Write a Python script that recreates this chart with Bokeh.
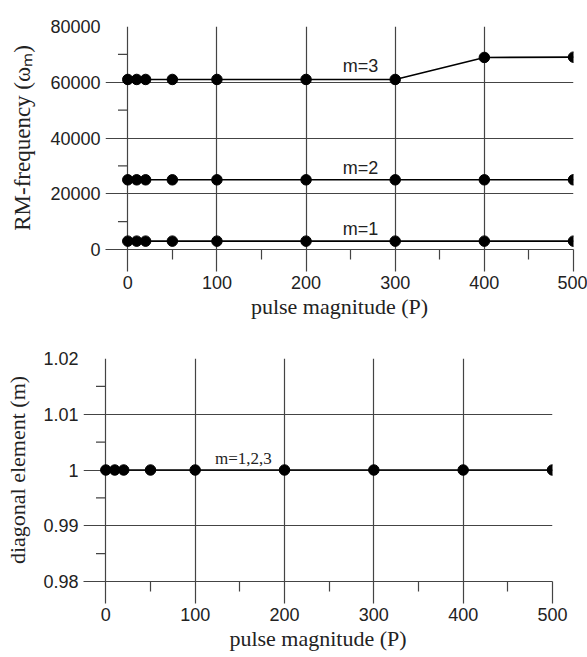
from bokeh.plotting import figure
from bokeh.models import FixedTicker, Label, CustomJSTickFormatter, Range1d
from bokeh.embed import file_html
from bokeh.resources import INLINE

# ---- data ----
pulse = [0, 10, 20, 50, 100, 200, 300, 400, 500]
freq_m1 = [3000, 3000, 3000, 3000, 3000, 3000, 3000, 3000, 3000]
freq_m2 = [25000, 25000, 25000, 25000, 25000, 25000, 25000, 25000, 25000]
freq_m3 = [61000, 61000, 61000, 61000, 61000, 61000, 61000, 68900, 69000]
diag = [1.0, 1.0, 1.0, 1.0, 1.0, 1.0, 1.0, 1.0, 1.0]

x_major = [0, 100, 200, 300, 400, 500]
x_minor = [50, 150, 250, 350, 450]
ya_major = [0, 20000, 40000, 60000, 80000]
ya_minor = [10000, 30000, 50000, 70000]
yb_major = [0.98, 0.99, 1.0, 1.01, 1.02]
yb_minor = [0.985, 0.995, 1.005, 1.015]

GRID = "#444444"
SANS = "Liberation Sans"
SERIF = "Liberation Serif"


def style(p, yticks, ylabel, ystandoff, ysize):
    p.outline_line_color = None
    p.background_fill_color = "white"
    p.border_fill_color = "white"
    # x axis
    xa = p.xaxis[0]
    xa.ticker = FixedTicker(ticks=x_major, minor_ticks=x_minor)
    xa.axis_line_color = GRID
    xa.axis_line_width = 1.2
    xa.major_tick_line_color = GRID
    xa.major_tick_line_width = 1.2
    xa.major_tick_out = 22
    xa.major_tick_in = 0
    xa.minor_tick_line_color = GRID
    xa.minor_tick_line_width = 1.2
    xa.minor_tick_out = 10
    xa.minor_tick_in = 0
    xa.major_label_text_font = SANS
    xa.major_label_text_font_size = "18px"
    xa.major_label_text_color = "#222222"
    xa.major_label_standoff = 4
    xa.axis_label = "pulse magnitude (P)"
    xa.axis_label_text_font = SERIF
    xa.axis_label_text_font_size = "22px"
    xa.axis_label_text_font_style = "normal"
    xa.axis_label_text_color = "#222222"
    xa.axis_label_standoff = 2
    # y axis
    ya = p.yaxis[0]
    ya.ticker = FixedTicker(ticks=yticks)
    ya.formatter = CustomJSTickFormatter(code="return tick.toString();")
    ya.axis_line_color = None
    ya.major_tick_line_color = None
    ya.major_tick_out = 0
    ya.major_tick_in = 0
    ya.minor_tick_line_color = None
    ya.major_label_text_font = SANS
    ya.major_label_text_font_size = "18px"
    ya.major_label_text_color = "#222222"
    ya.major_label_standoff = 5
    ya.axis_label = ylabel
    ya.axis_label_text_font = SERIF
    ya.axis_label_text_font_size = ysize
    ya.axis_label_text_font_style = "normal"
    ya.axis_label_text_color = "#222222"
    ya.axis_label_standoff = ystandoff
    # grids
    p.xgrid[0].ticker = FixedTicker(ticks=x_major)
    p.ygrid[0].ticker = FixedTicker(ticks=yticks)
    for g in (p.xgrid[0], p.ygrid[0]):
        g.grid_line_color = GRID
        g.grid_line_width = 1.2
        g.grid_line_alpha = 1.0


# ---- panel (a) ----
p1 = figure(width=587, height=328, output_backend="svg", toolbar_location=None,
            x_range=Range1d(-25, 500), y_range=Range1d(0, 80000),
            min_border_left=105, min_border_right=14, min_border_top=26,
            min_border_bottom=79)
style(p1, ya_major, "RM-frequency (ω\u2098)", 12, "23px")
p1.segment(x0=[-11] * len(ya_minor), y0=ya_minor, x1=[0] * len(ya_minor), y1=ya_minor,
           line_color=GRID, line_width=1.2)
for ys in (freq_m1, freq_m2, freq_m3):
    p1.line(pulse, ys, line_color="black", line_width=1.6)
    p1.scatter(pulse, ys, size=10.5, fill_color="black", line_color="black")
for txt, yy in (("m=3", 66000), ("m=2", 29240), ("m=1", 7350)):
    p1.add_layout(Label(x=261, y=yy, text=txt, text_align="center", text_baseline="middle",
                        text_font=SANS, text_font_size="18px", text_color="#222222"))
p1.add_layout(Label(x=-10, y=80000, y_offset=13, text="(a)", text_align="left",
                    text_baseline="middle", text_font=SERIF, text_font_size="18px",
                    text_color="#222222"))

# ---- panel (b) ----
p2 = figure(width=587, height=329, output_backend="svg", toolbar_location=None,
            x_range=Range1d(-25, 500), y_range=Range1d(0.98, 1.02),
            min_border_left=83, min_border_right=35, min_border_top=30,
            min_border_bottom=76)
style(p2, yb_major, "diagonal element (m)", 10, "22px")
p2.segment(x0=[-11] * len(yb_minor), y0=yb_minor, x1=[0] * len(yb_minor), y1=yb_minor,
           line_color=GRID, line_width=1.2)
p2.line(pulse, diag, line_color="black", line_width=1.6)
p2.scatter(pulse, diag, size=10.5, fill_color="black", line_color="black")
p2.add_layout(Label(x=154, y=1.00204, text="m=1,2,3", text_align="center",
                    text_baseline="middle", text_font=SERIF, text_font_size="17px",
                    text_color="#222222"))
p2.add_layout(Label(x=-10, y=1.02, y_offset=15, text="(b)", text_align="left",
                    text_baseline="middle", text_font=SERIF, text_font_size="18px",
                    text_color="#222222"))

open("out.html", "w").write(file_html([p1, p2], INLINE))
